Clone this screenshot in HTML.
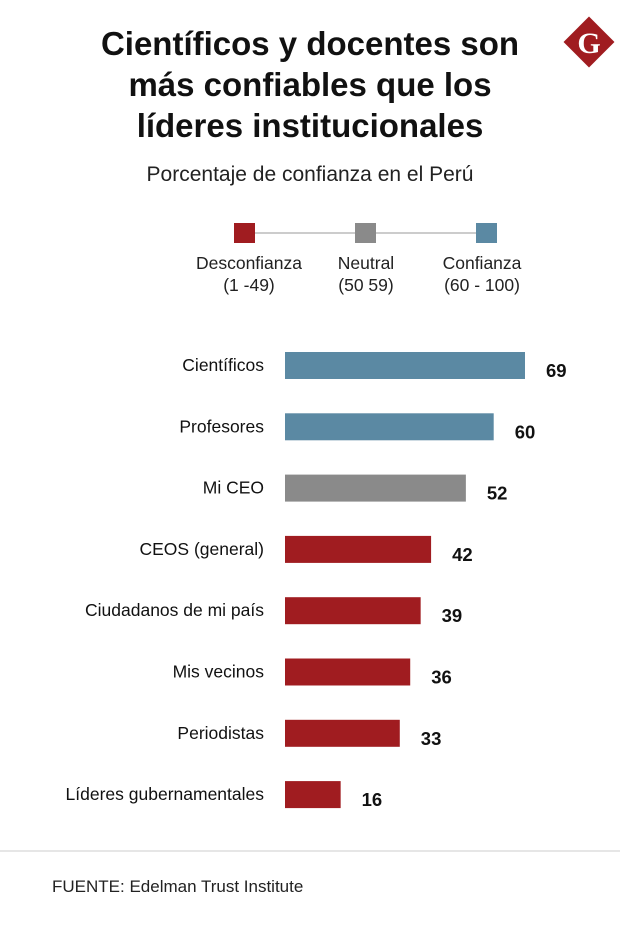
<!DOCTYPE html>
<html><head><meta charset="utf-8"><style>
body{margin:0;background:#fff;width:620px;height:931px;overflow:hidden;font-family:"Liberation Sans",sans-serif;}
svg{display:block}
</style></head><body>
<svg id="chart" width="620" height="931">
<g font-weight="bold" font-size="33" text-anchor="middle" fill="#111">
<text x="310" y="55">Científicos y docentes son</text>
<text x="310" y="96">más confiables que los</text>
<text x="310" y="137">líderes institucionales</text>
</g>
<text x="310" y="181" font-size="21" text-anchor="middle" fill="#222">Porcentaje de confianza en el Perú</text>
<g>
<rect x="571" y="24" width="36" height="36" fill="#a01c20" transform="rotate(45 589 42)"/>
<text x="589" y="53" font-family="Liberation Serif,serif" font-weight="bold" font-size="30" fill="#fff" text-anchor="middle">G</text>
</g>
<g font-size="17.5" fill="#222" text-anchor="middle">
<line x1="245" y1="233" x2="486" y2="233" stroke="#999" stroke-width="1"/>
<rect x="234" y="223" width="21" height="20" fill="#a01c20"/>
<rect x="355" y="223" width="21" height="20" fill="#8a8a8a"/>
<rect x="476" y="223" width="21" height="20" fill="#5b89a3"/>
<text x="249" y="269">Desconfianza</text>
<text x="249" y="291">(1 -49)</text>
<text x="366" y="269">Neutral</text>
<text x="366" y="291">(50 59)</text>
<text x="482" y="269">Confianza</text>
<text x="482" y="291">(60 - 100)</text>
</g>
<g id="bars"></g>
<line x1="0" y1="851" x2="620" y2="851" stroke="#ccc"/>
<text x="52" y="892" font-size="17" fill="#222">FUENTE: Edelman Trust Institute</text>
</svg>
<script>
const categories=["Científicos","Profesores","Mi CEO","CEOS (general)","Ciudadanos de mi país","Mis vecinos","Periodistas","Líderes gubernamentales"];
const values=[69,60,52,42,39,36,33,16];
const x0=285, pxPerUnit=240/69, y0=352, step=61.3, bh=27;
function xs(v){return x0+v*pxPerUnit;}
function ys(i){return y0+i*step;}
function color(v){return v>=60?"#5b89a3":(v>=50?"#8a8a8a":"#a01c20");}
const g=document.getElementById('bars');const ns="http://www.w3.org/2000/svg";
categories.forEach((c,i)=>{
 const r=document.createElementNS(ns,'rect');
 
 
 r.setAttribute('x',x0);r.setAttribute('y',ys(i));r.setAttribute('width',xs(values[i])-x0);r.setAttribute('height',bh);r.setAttribute('fill',color(values[i]));
 g.appendChild(r);
 const l=document.createElementNS(ns,'text');
 
 
 l.setAttribute('x',264);l.setAttribute('y',ys(i)+19);l.setAttribute('text-anchor','end');l.setAttribute('font-size','17.5');l.setAttribute('fill','#111');
 l.textContent=c;g.appendChild(l);
 const t=document.createElementNS(ns,'text');
 
 
 t.setAttribute('x',xs(values[i])+21);t.setAttribute('y',ys(i)+25);t.setAttribute('font-size','18.5');t.setAttribute('font-weight','bold');t.setAttribute('fill','#111');
 t.textContent=values[i];g.appendChild(t);
});
</script>
</body></html>
